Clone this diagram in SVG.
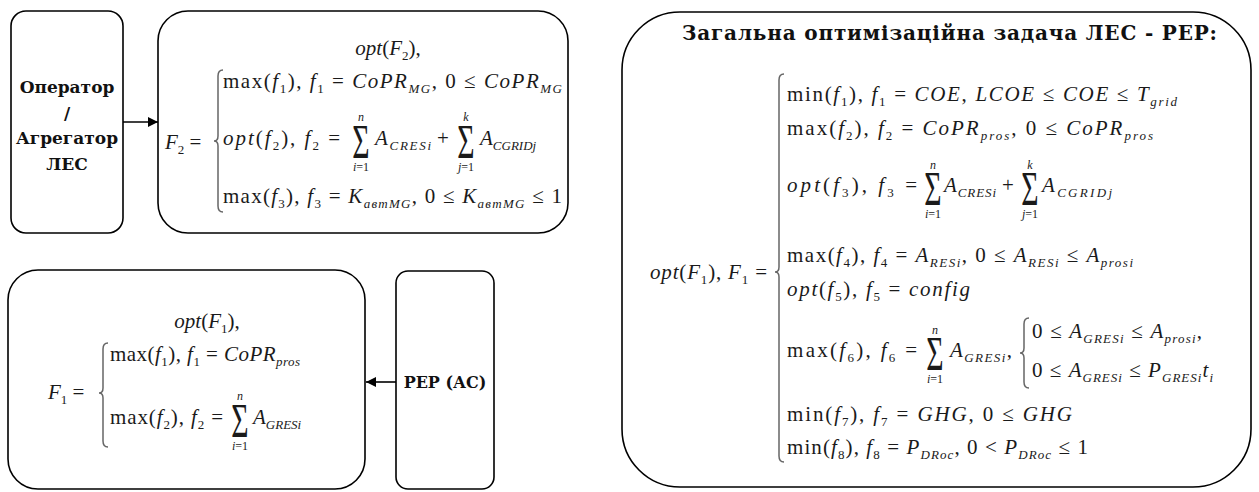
<svg xmlns="http://www.w3.org/2000/svg" width="1259" height="492" viewBox="0 0 1259 492">
<defs>
<style>
.box{fill:#fff;stroke:#000;stroke-width:1.6}
.lbl{font-family:"DejaVu Serif","Liberation Serif",serif;font-weight:bold;font-size:17px;fill:#111;text-anchor:middle}
.m{font-family:"Liberation Serif","Times New Roman",serif;font-size:21px;fill:#1a1a1a}
.i{font-style:italic}
.s{font-size:13px}
.lim{font-family:"Liberation Serif","Times New Roman",serif;font-size:12px;fill:#1a1a1a;text-anchor:middle}
.sig{font-family:"Liberation Serif","Times New Roman",serif;font-size:48px;fill:#1a1a1a;text-anchor:middle}
.br{fill:none;stroke:#666;stroke-width:1.5}
.conn{stroke:#000;stroke-width:1.6;fill:none}
</style>
<marker id="ah" viewBox="0 0 10 10" refX="10" refY="5" markerWidth="10" markerHeight="10" markerUnits="userSpaceOnUse" orient="auto">
<path d="M0,0 L10,5 L0,10 Z" fill="#000"/>
</marker>
</defs>
<rect width="1259" height="492" fill="#fff"/>

<g id="operator">
<rect class="box" x="11" y="11" width="112" height="222" rx="15"/>
<text class="lbl" x="67" y="93">Оператор</text>
<text class="lbl" x="67" y="119">/</text>
<text class="lbl" x="67" y="144">Агрегатор</text>
<text class="lbl" x="67" y="170">ЛЕС</text>
</g>

<g id="f2-box">
<rect class="box" x="158" y="11" width="410" height="222" rx="30"/>
<text class="m" x="388" y="55" text-anchor="middle"><tspan class="i">opt</tspan>(<tspan class="i">F</tspan><tspan class="s" dy="5">2</tspan><tspan dy="-5">),</tspan></text>
<text class="m" x="165" y="149"><tspan class="i">F</tspan><tspan class="s" dy="5">2</tspan><tspan dy="-5"> =</tspan></text>
<path class="br" d="M223,70 Q218,70 218,76 V136 Q218,141 214,141 Q218,141 218,146 V206 Q218,212 223,212"/>
<text class="m" x="223" y="88" textLength="339" lengthAdjust="spacing">max(<tspan class="i">f</tspan><tspan class="s" dy="5">1</tspan><tspan dy="-5">), </tspan><tspan class="i">f</tspan><tspan class="s" dy="5">1</tspan><tspan dy="-5"> = </tspan><tspan class="i">CoPR</tspan><tspan class="s i" dy="5">MG</tspan><tspan dy="-5">, 0 ≤ </tspan><tspan class="i">CoPR</tspan><tspan class="s i" dy="5">MG</tspan></text>
<text class="m" x="223" y="145" textLength="117" lengthAdjust="spacing"><tspan class="i">opt</tspan>(<tspan class="i">f</tspan><tspan class="s" dy="5">2</tspan><tspan dy="-5">), </tspan><tspan class="i">f</tspan><tspan class="s" dy="5">2</tspan><tspan dy="-5"> =</tspan></text>
<text class="sig" transform="translate(361,158) scale(0.62,1)">Σ</text>
<text class="lim i" x="361" y="121">n</text>
<text class="lim" x="361" y="171"><tspan class="i">i</tspan>=1</text>
<text class="m" x="375" y="145" textLength="56" lengthAdjust="spacing"><tspan class="i">A</tspan><tspan class="s i" dy="5">CRESi</tspan></text>
<text class="m" x="443" y="145" text-anchor="middle">+</text>
<text class="sig" transform="translate(466,158) scale(0.62,1)">Σ</text>
<text class="lim i" x="466" y="121">k</text>
<text class="lim" x="466" y="171"><tspan class="i">j</tspan>=1</text>
<text class="m" x="480" y="145"><tspan class="i">A</tspan><tspan class="s i" dy="5">CGRIDj</tspan></text>
<text class="m" x="223" y="203" textLength="339" lengthAdjust="spacing">max(<tspan class="i">f</tspan><tspan class="s" dy="5">3</tspan><tspan dy="-5">), </tspan><tspan class="i">f</tspan><tspan class="s" dy="5">3</tspan><tspan dy="-5"> = </tspan><tspan class="i">K</tspan><tspan class="s i" dy="5">автMG</tspan><tspan dy="-5">, 0 ≤ </tspan><tspan class="i">K</tspan><tspan class="s i" dy="5">автMG</tspan><tspan dy="-5"> ≤ 1</tspan></text>
</g>

<g id="f1-box">
<rect class="box" x="8" y="270" width="357" height="219" rx="30"/>
<text class="m" x="207" y="328" text-anchor="middle"><tspan class="i">opt</tspan>(<tspan class="i">F</tspan><tspan class="s" dy="5">1</tspan><tspan dy="-5">),</tspan></text>
<text class="m" x="48" y="399"><tspan class="i">F</tspan><tspan class="s" dy="5">1</tspan><tspan dy="-5"> =</tspan></text>
<path class="br" d="M108,343 Q103,343 103,349 V388 Q103,393 99,393 Q103,393 103,398 V441 Q103,447 108,447"/>
<text class="m" x="110" y="361" textLength="190" lengthAdjust="spacing">max(<tspan class="i">f</tspan><tspan class="s" dy="5">1</tspan><tspan dy="-5">), </tspan><tspan class="i">f</tspan><tspan class="s" dy="5">1</tspan><tspan dy="-5"> = </tspan><tspan class="i">CoPR</tspan><tspan class="s i" dy="5">pros</tspan></text>
<text class="m" x="110" y="424" textLength="113" lengthAdjust="spacing">max(<tspan class="i">f</tspan><tspan class="s" dy="5">2</tspan><tspan dy="-5">), </tspan><tspan class="i">f</tspan><tspan class="s" dy="5">2</tspan><tspan dy="-5"> =</tspan></text>
<text class="sig" transform="translate(240,437) scale(0.62,1)">Σ</text>
<text class="lim i" x="240" y="400">n</text>
<text class="lim" x="240" y="450"><tspan class="i">i</tspan>=1</text>
<text class="m" x="253" y="424"><tspan class="i">A</tspan><tspan class="s i" dy="5">GRESi</tspan></text>
</g>

<g id="rer-ac">
<rect class="box" x="396" y="271" width="98" height="218" rx="12"/>
<text class="lbl" x="445" y="388" style="font-size:16px">РЕР (АС)</text>
</g>

<g id="general-task">
<rect class="box" x="622" y="12" width="629" height="475" rx="58"/>
<text class="lbl" x="682" y="40" style="text-anchor:start;font-size:20px" textLength="535" lengthAdjust="spacing">Загальна оптимізаційна задача ЛЕС - РЕР:</text>
<text class="m" x="650" y="279" textLength="117" lengthAdjust="spacing"><tspan class="i">opt</tspan>(<tspan class="i">F</tspan><tspan class="s" dy="5">1</tspan><tspan dy="-5">), </tspan><tspan class="i">F</tspan><tspan class="s" dy="5">1</tspan><tspan dy="-5"> =</tspan></text>
<path class="br" d="M784,74 Q779,74 779,80 V267 Q779,272 775,272 Q779,272 779,277 V456 Q779,462 784,462"/>
<text class="m" x="787" y="101" textLength="390" lengthAdjust="spacing">min(<tspan class="i">f</tspan><tspan class="s" dy="5">1</tspan><tspan dy="-5">), </tspan><tspan class="i">f</tspan><tspan class="s" dy="5">1</tspan><tspan dy="-5"> = </tspan><tspan class="i">COE</tspan>, <tspan class="i">LCOE</tspan> ≤ <tspan class="i">COE</tspan> ≤ <tspan class="i">T</tspan><tspan class="s i" dy="5">grid</tspan></text>
<text class="m" x="787" y="135" textLength="366" lengthAdjust="spacing">max(<tspan class="i">f</tspan><tspan class="s" dy="5">2</tspan><tspan dy="-5">), </tspan><tspan class="i">f</tspan><tspan class="s" dy="5">2</tspan><tspan dy="-5"> = </tspan><tspan class="i">CoPR</tspan><tspan class="s i" dy="5">pros</tspan><tspan dy="-5">, 0 ≤ </tspan><tspan class="i">CoPR</tspan><tspan class="s i" dy="5">pros</tspan></text>
<text class="m" x="787" y="192" textLength="130" lengthAdjust="spacing"><tspan class="i">opt</tspan>(<tspan class="i">f</tspan><tspan class="s" dy="5">3</tspan><tspan dy="-5">), </tspan><tspan class="i">f</tspan><tspan class="s" dy="5">3</tspan><tspan dy="-5"> =</tspan></text>
<text class="sig" transform="translate(933,205) scale(0.62,1)">Σ</text>
<text class="lim i" x="933" y="169">n</text>
<text class="lim" x="933" y="218"><tspan class="i">i</tspan>=1</text>
<text class="m" x="944" y="192" textLength="52" lengthAdjust="spacing"><tspan class="i">A</tspan><tspan class="s i" dy="5">CRESi</tspan></text>
<text class="m" x="1008" y="192" text-anchor="middle">+</text>
<text class="sig" transform="translate(1030,205) scale(0.62,1)">Σ</text>
<text class="lim i" x="1030" y="169">k</text>
<text class="lim" x="1030" y="218"><tspan class="i">j</tspan>=1</text>
<text class="m" x="1042" y="192" textLength="70" lengthAdjust="spacing"><tspan class="i">A</tspan><tspan class="s i" dy="5">CGRIDj</tspan></text>
<text class="m" x="787" y="262" textLength="346" lengthAdjust="spacing">max(<tspan class="i">f</tspan><tspan class="s" dy="5">4</tspan><tspan dy="-5">), </tspan><tspan class="i">f</tspan><tspan class="s" dy="5">4</tspan><tspan dy="-5"> = </tspan><tspan class="i">A</tspan><tspan class="s i" dy="5">RESi</tspan><tspan dy="-5">, 0 ≤ </tspan><tspan class="i">A</tspan><tspan class="s i" dy="5">RESi</tspan><tspan dy="-5"> ≤ </tspan><tspan class="i">A</tspan><tspan class="s i" dy="5">prosi</tspan></text>
<text class="m" x="787" y="296" textLength="183" lengthAdjust="spacing"><tspan class="i">opt</tspan>(<tspan class="i">f</tspan><tspan class="s" dy="5">5</tspan><tspan dy="-5">), </tspan><tspan class="i">f</tspan><tspan class="s" dy="5">5</tspan><tspan dy="-5"> = </tspan><tspan class="i">config</tspan></text>
<text class="m" x="787" y="357" textLength="130" lengthAdjust="spacing">max(<tspan class="i">f</tspan><tspan class="s" dy="5">6</tspan><tspan dy="-5">), </tspan><tspan class="i">f</tspan><tspan class="s" dy="5">6</tspan><tspan dy="-5"> =</tspan></text>
<text class="sig" transform="translate(935,370) scale(0.62,1)">Σ</text>
<text class="lim i" x="935" y="334">n</text>
<text class="lim" x="935" y="383"><tspan class="i">i</tspan>=1</text>
<text class="m" x="950" y="357" textLength="62" lengthAdjust="spacing"><tspan class="i">A</tspan><tspan class="s i" dy="5">GRESi</tspan><tspan dy="-5">,</tspan></text>
<path class="br" d="M1029,318 Q1024,318 1024,324 V348 Q1024,353 1020,353 Q1024,353 1024,358 V382 Q1024,388 1029,388"/>
<text class="m" x="1032" y="338" textLength="170" lengthAdjust="spacing">0 ≤ <tspan class="i">A</tspan><tspan class="s i" dy="5">GRESi</tspan><tspan dy="-5"> ≤ </tspan><tspan class="i">A</tspan><tspan class="s i" dy="5">prosi</tspan><tspan dy="-5">,</tspan></text>
<text class="m" x="1032" y="377" textLength="181" lengthAdjust="spacing">0 ≤ <tspan class="i">A</tspan><tspan class="s i" dy="5">GRESi</tspan><tspan dy="-5"> ≤ </tspan><tspan class="i">P</tspan><tspan class="s i" dy="5">GRESi</tspan><tspan class="i" dy="-5">t</tspan><tspan class="s i" dy="5">i</tspan></text>
<text class="m" x="787" y="421" textLength="285" lengthAdjust="spacing">min(<tspan class="i">f</tspan><tspan class="s" dy="5">7</tspan><tspan dy="-5">), </tspan><tspan class="i">f</tspan><tspan class="s" dy="5">7</tspan><tspan dy="-5"> = </tspan><tspan class="i">GHG</tspan>, 0 ≤ <tspan class="i">GHG</tspan></text>
<text class="m" x="787" y="454" textLength="301" lengthAdjust="spacing">min(<tspan class="i">f</tspan><tspan class="s" dy="5">8</tspan><tspan dy="-5">), </tspan><tspan class="i">f</tspan><tspan class="s" dy="5">8</tspan><tspan dy="-5"> = </tspan><tspan class="i">P</tspan><tspan class="s i" dy="5">DRoc</tspan><tspan dy="-5">, 0 &lt; </tspan><tspan class="i">P</tspan><tspan class="s i" dy="5">DRoc</tspan><tspan dy="-5"> ≤ 1</tspan></text>
</g>

<g id="connectors">
<line class="conn" x1="123" y1="122" x2="158" y2="122" marker-end="url(#ah)"/>
<line class="conn" x1="396" y1="382" x2="366" y2="382" marker-end="url(#ah)"/>
</g>
</svg>
